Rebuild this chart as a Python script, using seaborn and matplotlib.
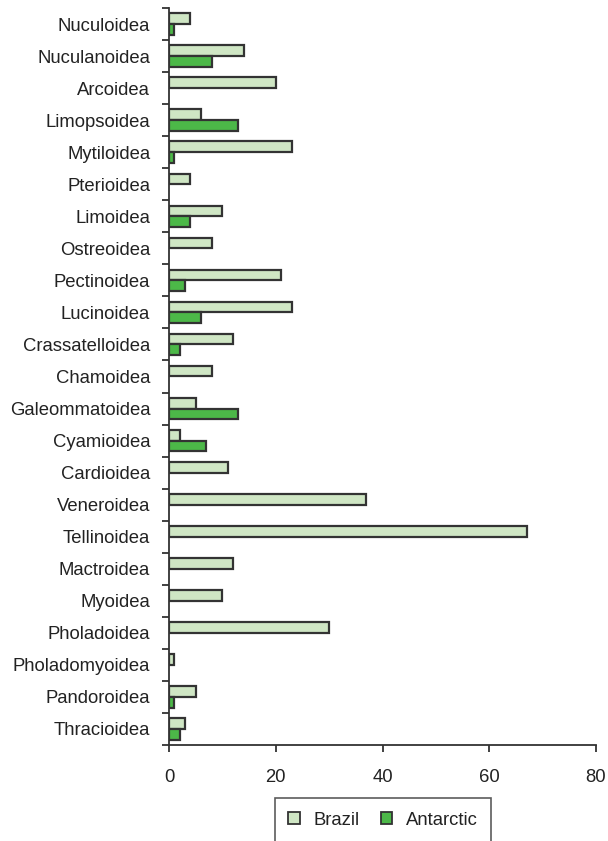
import matplotlib
matplotlib.use("Agg")
import matplotlib.pyplot as plt
import seaborn as sns
import pandas as pd
import numpy as np
from matplotlib.ticker import FixedLocator

superfamilies = [
    "Nuculoidea", "Nuculanoidea", "Arcoidea", "Limopsoidea", "Mytiloidea",
    "Pterioidea", "Limoidea", "Ostreoidea", "Pectinoidea", "Lucinoidea",
    "Crassatelloidea", "Chamoidea", "Galeommatoidea", "Cyamioidea",
    "Cardioidea", "Veneroidea", "Tellinoidea", "Mactroidea", "Myoidea",
    "Pholadoidea", "Pholadomyoidea", "Pandoroidea", "Thracioidea",
]
brazil = [4, 14, 20, 6, 23, 4, 10, 8, 21, 23, 12, 8, 5, 2, 11, 37, 67, 12, 10, 30, 1, 5, 3]
antarctic = [1, 8, 0, 13, 1, 0, 4, 0, 3, 6, 2, 0, 13, 7, 0, 0, 0, 0, 0, 0, 0, 1, 2]
regions = ["Brazil", "Antarctic"]
x_ticks = [0, 20, 40, 60, 80]

df = pd.DataFrame({
    "Superfamily": superfamilies * 2,
    "Species": brazil + antarctic,
    "Region": [regions[0]] * len(superfamilies) + [regions[1]] * len(superfamilies),
})

sns.set_theme(style="white")
plt.rcParams["font.family"] = ["Liberation Sans", "DejaVu Sans"]
text_color = "#222222"
line_color = "#333333"
colors = {"Brazil": "#cfe6c4", "Antarctic": "#4cb848"}

fig = plt.figure(figsize=(6.08, 8.41), dpi=100)
ax = fig.add_axes([169 / 608, 1 - 745 / 841, (596 - 169) / 608, (745 - 8) / 841])

sns.barplot(
    data=df, y="Superfamily", x="Species", hue="Region",
    order=superfamilies, hue_order=regions, palette=colors, saturation=1,
    orient="h", width=0.67, edgecolor=line_color, linewidth=1.6,
    ax=ax, legend=False,
)

# zero-length bars would leave a stray edge line at x=0
for patch in ax.patches:
    if patch.get_width() == 0:
        patch.set_visible(False)

ax.set_xlim(0, 80)
ax.set_ylim(len(superfamilies) - 0.5, -0.5)
ax.set_xlabel("")
ax.set_ylabel("")
ax.set_xticks(x_ticks)
ax.set_xticklabels([str(t) for t in x_ticks])

# tick marks sit on the category boundaries, labels stay centred
ax.yaxis.set_minor_locator(FixedLocator(np.arange(-0.5, len(superfamilies), 1.0)))
ax.tick_params(axis="y", which="major", length=0, pad=13.5, labelsize=13.3, labelcolor=text_color)
ax.tick_params(axis="y", which="minor", length=5, width=1.3, color=line_color, left=True)
ax.tick_params(axis="x", which="major", length=5, width=1.3, color=line_color, bottom=True,
               pad=12, labelsize=13.3, labelcolor=text_color)

for side in ["top", "right"]:
    ax.spines[side].set_visible(False)
for side in ["left", "bottom"]:
    ax.spines[side].set_color(line_color)
    ax.spines[side].set_linewidth(1.3)

handles = [
    plt.Rectangle((0, 0), 1, 1, facecolor=colors[r], edgecolor=line_color, linewidth=1.3)
    for r in regions
]
leg = fig.legend(
    handles, regions, loc="upper center", bbox_to_anchor=(383 / 608, 1 - 798 / 841),
    ncol=2, frameon=True, fancybox=False, fontsize=13.3,
    handlelength=0.6, handleheight=0.6, handletextpad=0.75, columnspacing=1.15,
    borderpad=0.75, borderaxespad=0,
)
leg.get_frame().set_edgecolor(line_color)
leg.get_frame().set_linewidth(1.2)
for t in leg.get_texts():
    t.set_color(text_color)

fig.savefig("out.png", dpi=100)
